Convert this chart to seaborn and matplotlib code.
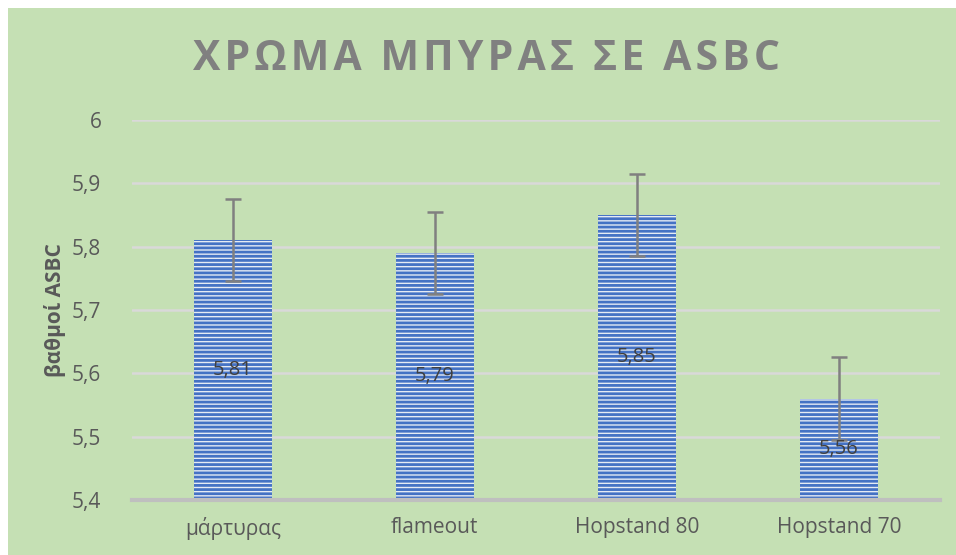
import matplotlib
matplotlib.use("Agg")
import matplotlib.pyplot as plt
import seaborn as sns
import pandas as pd
from matplotlib.patches import Rectangle

# data
categories = ["μάρτυρας", "flameout", "Hopstand 80", "Hopstand 70"]
values = [5.81, 5.79, 5.85, 5.56]
errors = [0.065, 0.065, 0.065, 0.065]
value_labels = ["5,81", "5,79", "5,85", "5,56"]
yticks = [5.4, 5.5, 5.6, 5.7, 5.8, 5.9, 6.0]
ytick_labels = ["5,4", "5,5", "5,6", "5,7", "5,8", "5,9", "6"]
title = "ΧΡΩΜΑ ΜΠΥΡΑΣ ΣΕ ASBC"

df = pd.DataFrame({"group": categories, "asbc": values})

sns.set_theme(style="white")
plt.rcParams["font.family"] = ["Open Sans", "DejaVu Sans"]
plt.rcParams["hatch.linewidth"] = 2.0
plt.rcParams["hatch.color"] = "#4472c4"

fig = plt.figure(figsize=(9.56, 5.55), dpi=100, facecolor="white")
fig.patches.append(Rectangle((8 / 956, 0), 1, 1 - 8 / 555, transform=fig.transFigure,
                             facecolor="#c5e0b4", edgecolor="none", zorder=-10))
ax = fig.add_axes([0.138, 0.099, 0.845, 0.685])
ax.set_facecolor("none")

sns.barplot(data=df, x="group", y="asbc", ax=ax, width=0.385,
            color="#e3eaf6", linewidth=0, zorder=2, errorbar=None)
for p in ax.patches:
    p.set_edgecolor("#4472c4")
    p.set_hatch("----")

ax.errorbar(range(len(values)), values, yerr=errors, fmt="none",
            ecolor="#808080", elinewidth=1.8, capsize=6, capthick=1.8, zorder=4)

for i, (v, lab) in enumerate(zip(values, value_labels)):
    ax.text(i, (5.4 + v) / 2, lab, ha="center", va="center",
            fontsize=14.5, color="#404040", zorder=5)

ax.set_ylim(5.4, 6.0)
ax.set_xlim(-0.5, len(categories) - 0.5)
ax.set_yticks(yticks)
ax.set_yticklabels(ytick_labels)
ax.yaxis.grid(True, color="#d9d9d9", linewidth=1.8, zorder=0)
ax.set_axisbelow(True)
for s in ["top", "right", "left"]:
    ax.spines[s].set_visible(False)
ax.spines["bottom"].set_color("#bfbfbf")
ax.spines["bottom"].set_linewidth(3)
ax.spines["bottom"].set_zorder(3)
ax.tick_params(axis="both", length=0, labelsize=15, colors="#595959", pad=12)
ax.tick_params(axis="y", pad=22)

ax.set_xlabel("")
ax.set_ylabel("βαθμοί ASBC", fontsize=15, fontweight="bold", color="#595959", labelpad=4)

# spaced-out title like the original
spaced_title = "\u200a".join(title)
fig.text(0.509, 0.893, spaced_title, ha="center", va="center",
         fontsize=29.5, fontweight="bold", color="#808080")

fig.savefig("out.png", dpi=100, facecolor=fig.get_facecolor())
